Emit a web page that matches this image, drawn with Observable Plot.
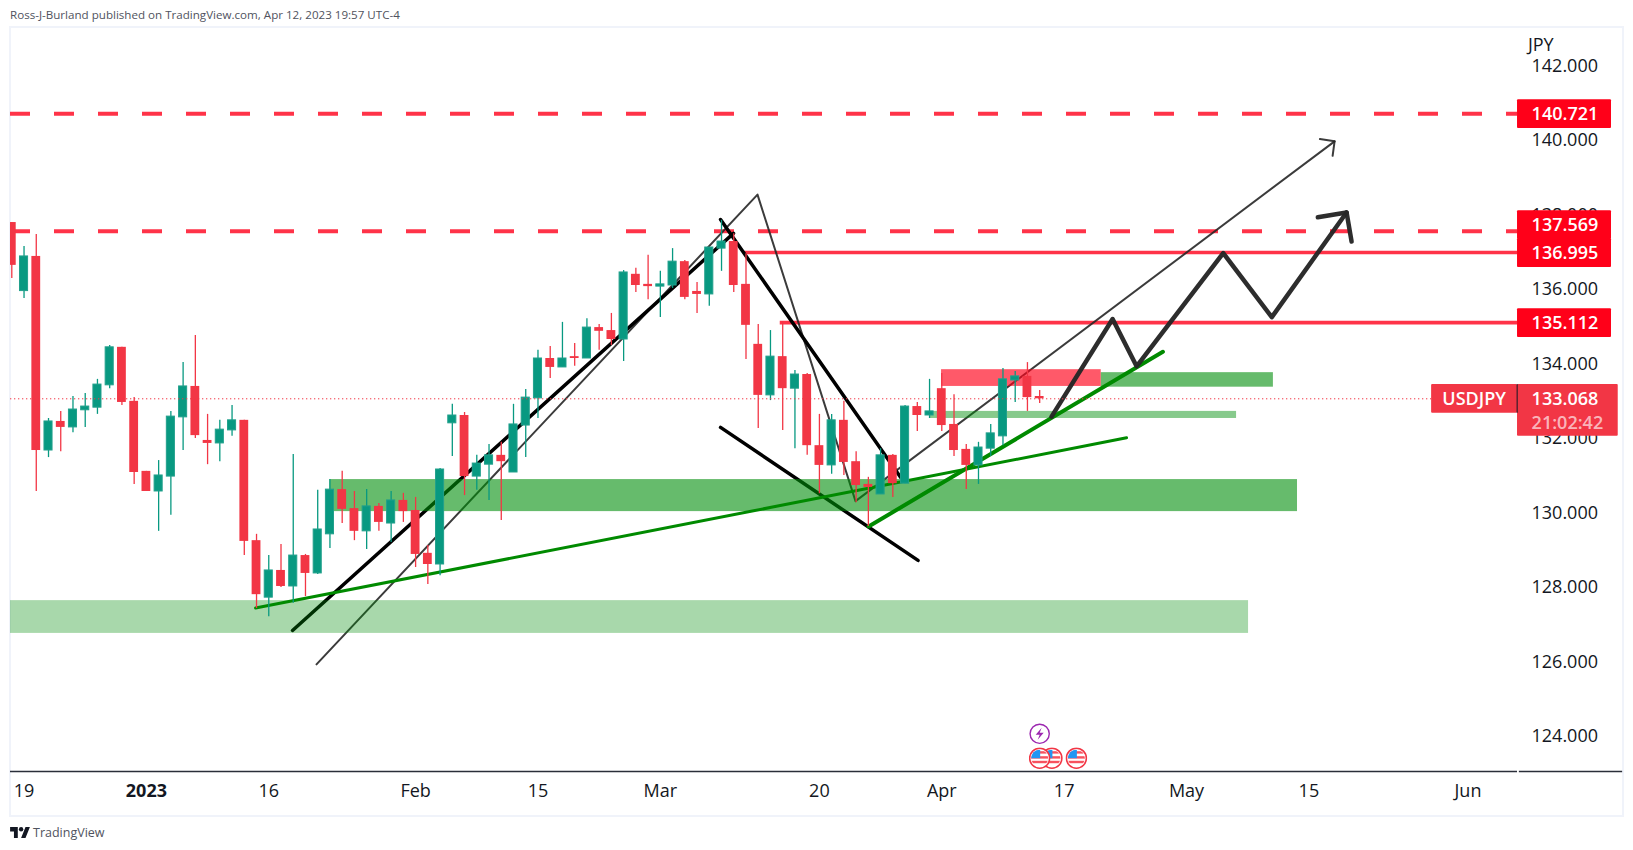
<!DOCTYPE html>
<html><head><meta charset="utf-8">
<script src="https://cdn.jsdelivr.net/npm/d3@7"></script>
<script src="https://cdn.jsdelivr.net/npm/@observablehq/plot@0.6"></script>
<style>
html,body{margin:0;padding:0;background:#fff;overflow:hidden;height:850px;font-family:"Open Sans",sans-serif}
#head{height:26px;line-height:29px;font-size:11.6px;color:#50535e;padding-left:10px;box-sizing:border-box;white-space:nowrap}
#frame{position:absolute;left:9px;top:26px;width:1615px;height:791px;border:2px solid #f0f3fa;box-sizing:border-box}
#chart{position:absolute;left:0;top:26px}
#foot{position:absolute;left:10px;top:825px;height:15px;display:flex;align-items:center;gap:3px;font-size:12.5px;color:#50535e}
</style></head><body>
<div id="head">Ross-J-Burland published on TradingView.com, Apr 12, 2023 19:57 UTC-4</div>
<div id="frame"></div>
<div id="chart"></div>
<div id="foot"><svg width="20" height="11" viewBox="0 0 36 20"><path fill="#131722" d="M14 20H7V8H0V0h14v20zM28 20h-8L28 0h8l-8 20z"/><circle cx="20" cy="4" r="4" fill="#131722"/></svg><span>TradingView</span></div>
<script>
const opens=[137.80,135.96,136.89,131.68,132.46,132.30,132.76,132.83,133.43,134.45,
133.00,131.12,130.58,130.98,132.57,133.40,131.95,131.87,132.22,132.49,
129.26,127.73,128.46,128.03,128.86,128.38,129.43,130.63,130.12,129.51,
130.18,129.72,130.34,130.07,128.92,128.62,132.41,132.62,130.98,131.30,
131.55,131.09,132.35,133.08,134.15,133.91,134.20,134.15,134.98,134.90,
134.66,136.41,136.14,136.08,136.11,136.75,135.95,135.87,137.10,137.29,
136.14,134.53,133.16,134.20,133.34,133.72,131.81,131.28,132.49,131.38,
130.77,130.50,131.55,130.79,132.86,132.62,133.34,132.38,131.71,131.28,
131.73,132.06,133.56,133.67,133.13];
const highs=[137.80,137.16,137.48,132.54,132.73,133.13,133.21,133.59,134.50,134.45,
133.10,131.12,131.41,132.73,134.04,134.77,132.65,132.49,132.89,132.49,
129.43,128.86,129.16,131.57,128.89,130.61,130.90,131.12,130.58,130.63,
130.26,130.58,130.53,130.42,129.13,131.20,132.92,132.70,131.55,131.84,
131.90,132.92,133.32,134.37,134.47,135.12,134.55,135.22,135.06,135.36,
136.51,136.57,136.92,136.49,137.10,136.78,136.19,137.13,137.86,137.50,
136.96,135.06,134.90,135.13,133.83,133.75,132.65,132.65,133.00,131.65,
130.96,131.73,131.57,132.89,132.97,133.59,133.75,133.18,131.84,131.90,
132.38,133.88,133.80,134.04,133.29];
const lows=[136.30,135.76,130.58,131.49,131.65,132.16,132.30,132.65,133.34,132.89,
130.77,130.58,129.51,129.94,131.68,132.00,131.30,131.38,132.06,128.86,
127.44,127.22,128.00,127.58,127.76,128.35,129.05,129.72,129.26,129.02,
129.51,129.21,129.75,128.54,128.08,128.32,131.52,130.47,130.61,130.34,
129.80,131.09,131.49,132.54,133.61,133.91,133.94,134.15,134.37,134.50,
134.07,135.92,135.73,135.25,136.03,135.73,135.36,135.55,136.49,135.92,
134.12,132.27,133.02,132.22,131.73,131.55,130.52,131.04,131.01,130.28,
129.64,130.50,130.42,130.79,132.19,132.54,132.19,131.52,130.63,130.77,
131.52,131.81,132.97,132.73,132.94];
const closes=[136.65,136.89,131.68,132.46,132.30,132.78,132.86,133.45,134.45,132.97,
131.09,130.58,131.01,132.59,133.40,132.08,131.87,132.24,132.49,129.24,
127.81,128.46,128.03,128.86,128.38,129.56,130.63,130.10,129.51,130.18,
129.75,130.34,130.04,128.89,128.62,131.17,132.62,130.98,131.33,131.55,
131.38,132.38,133.10,134.15,133.91,134.15,134.15,134.98,134.88,134.66,
136.46,136.11,136.08,136.14,136.75,135.79,135.87,137.13,137.29,136.11,
135.04,133.16,134.20,133.34,133.72,131.81,131.28,132.49,131.36,130.74,
130.69,131.55,130.79,132.86,132.62,132.73,132.35,131.68,131.28,131.76,
132.14,133.59,133.67,133.10,133.068];

const timeTicks=[1,11,21,33,43,53,66,76,86,96,106,119];
const timeLabels=["19","2023","16","Feb","15","Mar","20","Apr","17","May","15","Jun"];
const priceTicks=[124,126,128,130,132,134,136,138,140,142];

const lastPrice=133.068;
const dashedLevels=[140.721,137.569];
const solidLevels=[{p:136.995,from:59.8},{p:135.112,from:62.8}];
const levelLabels=[{t:"140.721",c:140.71},{t:"135.112",c:135.10},{t:"136.995",c:136.98},{t:"137.569",c:137.73}];

const zones=[
 {x1:-0.106,x2:101.07,y1:127.65,y2:126.77,fill:"#008e0a",o:0.34},
 {x1:25.99,x2:105.07,y1:130.90,y2:130.04,fill:"#008e0a",o:0.6},
 {x1:89.03,x2:103.1,y1:133.77,y2:133.38,fill:"#008e0a",o:0.6},
 {x1:75.02,x2:100.09,y1:132.73,y2:132.54,fill:"#008e0a",o:0.47},
 {x1:75.98,x2:89.03,y1:133.85,y2:133.40,fill:"#ff0019",o:0.65}
];
const blackUp=[[22.94,126.85],[58.98,137.51]];
const blackDown=[[57.92,137.88],[72.63,130.96]];
const blackLow=[[57.92,132.30],[74.06,128.73]];
const thinPath=[[24.90,125.94],[60.94,138.55],[68.95,130.32],[108.1,139.98]];
const thinHead=[[106.9,140.04],[108.1,139.98],[107.94,139.59]];
const greenLong=[[19.92,127.45],[91.1,132.02]];
const greenShort=[[70.02,129.64],[94.07,134.33]];
const zigzag=[[84.97,132.59],[89.96,135.21],[91.92,133.94],[99.0,136.98],[102.97,135.26],[109.08,138.07]];
const zigHead=[[106.73,137.94],[109.08,138.07],[109.49,137.29]];

const flagIcon="data:image/svg+xml,"+encodeURIComponent('<svg xmlns="http://www.w3.org/2000/svg" viewBox="0 0 22 22"><defs><clipPath id="c"><circle cx="11" cy="11" r="8.5"/></clipPath></defs><circle cx="11" cy="11" r="10" fill="#fff" stroke="#f23645" stroke-width="1.6"/><g clip-path="url(#c)"><rect x="0" y="9" width="22" height="2.4" fill="#f7525f"/><rect x="0" y="13.6" width="22" height="2.4" fill="#f7525f"/><rect x="0" y="4" width="22" height="2.4" fill="#f7525f"/><rect x="2" y="2" width="9.5" height="9" fill="#2196f3"/></g></svg>');
const boltIcon="data:image/svg+xml,"+encodeURIComponent('<svg xmlns="http://www.w3.org/2000/svg" viewBox="0 0 22 22"><circle cx="11" cy="11" r="9.6" fill="#fff" stroke="#9c27b0" stroke-width="1.4"/><path d="M13 5l-6 7h4l-2 5 6-7h-4z" fill="#9c27b0"/></svg>');
const events=[{i:85,p:123.42,src:flagIcon},{i:84,p:123.42,src:flagIcon},{i:87,p:123.42,src:flagIcon},{i:84,p:124.075,src:boltIcon}];

const candles=opens.map((o,i)=>({i,o,h:highs[i],l:lows[i],c:closes[i]}));
const up=candles.filter(d=>d.c>=d.o), down=candles.filter(d=>d.c<d.o);
const RED="#f23645",GREEN="#089981",LINE="#ff3348",INK="#131722",DARK="#262626";
const px=a=>({x:d=>d[0],y:d=>d[1]});
const label=i=>timeLabels[timeTicks.indexOf(i)];
const rightEdge=123.05,labelEnd=130.73,textX=124.2,leftEdge=-0.106;

const chart=Plot.plot({
 width:1633,height:790,marginLeft:10,marginRight:115,marginTop:2,marginBottom:45,
 style:{background:"transparent",fontFamily:'"Open Sans",sans-serif',fontSize:"18px",color:INK},
 x:{type:"linear",domain:[leftEdge,123.13]},
 y:{type:"linear",domain:[123.063,143.009]},
 marks:[
  Plot.axisY({anchor:"right",ticks:priceTicks,tickFormat:d3.format(".3f"),tickSize:0,tickPadding:13,label:null,fill:INK,fontSize:18}),
  Plot.axisX({ticks:timeTicks.filter(d=>d!==11),tickFormat:label,tickSize:0,tickPadding:13,label:null,fontSize:18,fill:INK}),
  Plot.axisX({ticks:[11],tickFormat:label,tickSize:0,tickPadding:13,label:null,fontSize:18,fontWeight:700,fill:INK}),
  Plot.ruleY([[leftEdge,123.05],[123.2,131.64]],{y:()=>123.063,x1:d=>d[0],x2:d=>d[1],stroke:"#2a2e39",strokeWidth:1.3}),
  Plot.text(["JPY"],{x:()=>123.9,y:()=>142.55,text:d=>d,textAnchor:"start",fontSize:18,fill:INK}),
  // level lines
  Plot.ruleY(dashedLevels,{x1:leftEdge,x2:rightEdge,stroke:LINE,strokeWidth:4,strokeDasharray:"20,24"}),
  Plot.ruleY(solidLevels,{y:"p",x1:"from",x2:rightEdge,stroke:LINE,strokeWidth:3.6}),
  // drawings
  Plot.line(thinPath,{...px(),stroke:DARK,strokeOpacity:.9,strokeWidth:2}),
  Plot.line(thinHead,{...px(),stroke:DARK,strokeOpacity:.9,strokeWidth:2}),
  Plot.line(blackUp,{...px(),stroke:"#000",strokeWidth:3.5}),
  Plot.line(blackDown,{...px(),stroke:"#000",strokeWidth:3.5}),
  Plot.line(blackLow,{...px(),stroke:"#000",strokeWidth:3.5}),
  // zones
  Plot.rect(zones,{x1:"x1",x2:"x2",y1:"y1",y2:"y2",fill:"fill",fillOpacity:"o"}),
  Plot.line(greenLong,{...px(),stroke:"#008a00",strokeWidth:3}),
  Plot.line(greenShort,{...px(),stroke:"#008a00",strokeWidth:4}),
  Plot.line(zigzag,{...px(),stroke:DARK,strokeOpacity:.97,strokeWidth:4.5}),
  Plot.line(zigHead,{...px(),stroke:DARK,strokeOpacity:.97,strokeWidth:4.5}),
  // candles
  Plot.ruleX(down,{x:"i",y1:"l",y2:"h",stroke:RED,strokeWidth:1.3}),
  Plot.ruleX(up,{x:"i",y1:"l",y2:"h",stroke:GREEN,strokeWidth:1.3}),
  Plot.rect(down,{x1:d=>Math.max(d.i-.36,leftEdge),x2:d=>d.i+.36,y1:"o",y2:"c",fill:RED}),
  Plot.rect(up,{x1:d=>d.i-.33,x2:d=>d.i+.33,y1:"o",y2:"c",fill:GREEN,stroke:"#22a08c",strokeWidth:1}),
  // last price line
  Plot.ruleY([lastPrice],{x1:leftEdge,x2:116.03,stroke:RED,strokeWidth:1,strokeDasharray:"1.3,2.7"}),
  // right-hand labels
  Plot.rect(levelLabels,{x1:rightEdge,x2:labelEnd,y1:d=>d.c+.385,y2:d=>d.c-.385,fill:"#ff0019",rx:1}),
  Plot.text(levelLabels,{x:()=>textX,y:d=>d.c,text:"t",textAnchor:"start",fill:"#fff",fontSize:18,fontWeight:600}),
  Plot.rect([{}],{x1:116.03,x2:rightEdge,y1:133.45,y2:132.68,fill:RED,rx:1}),
  Plot.rect([{}],{x1:rightEdge,x2:131.28,y1:133.45,y2:132.06,fill:RED,rx:1}),
  Plot.ruleX([rightEdge-.03],{y1:133.45,y2:132.68,stroke:INK,strokeWidth:1}),
  Plot.text(["USDJPY"],{x:()=>119.5,y:()=>lastPrice,text:d=>d,fill:"#fff",fontSize:18,fontWeight:600}),
  Plot.text([lastPrice],{x:()=>textX,y:()=>lastPrice,text:d=>d.toFixed(3),textAnchor:"start",fill:"#fff",fontSize:18,fontWeight:600}),
  Plot.text(["21:02:42"],{x:()=>textX,y:()=>132.41,text:d=>d,textAnchor:"start",fill:"#fff",fillOpacity:.65,fontSize:18,fontWeight:600}),
  // events
  Plot.image(events,{x:"i",y:"p",src:"src",width:22,height:22})
 ]
});
document.getElementById("chart").append(chart);
</script>
</body></html>
